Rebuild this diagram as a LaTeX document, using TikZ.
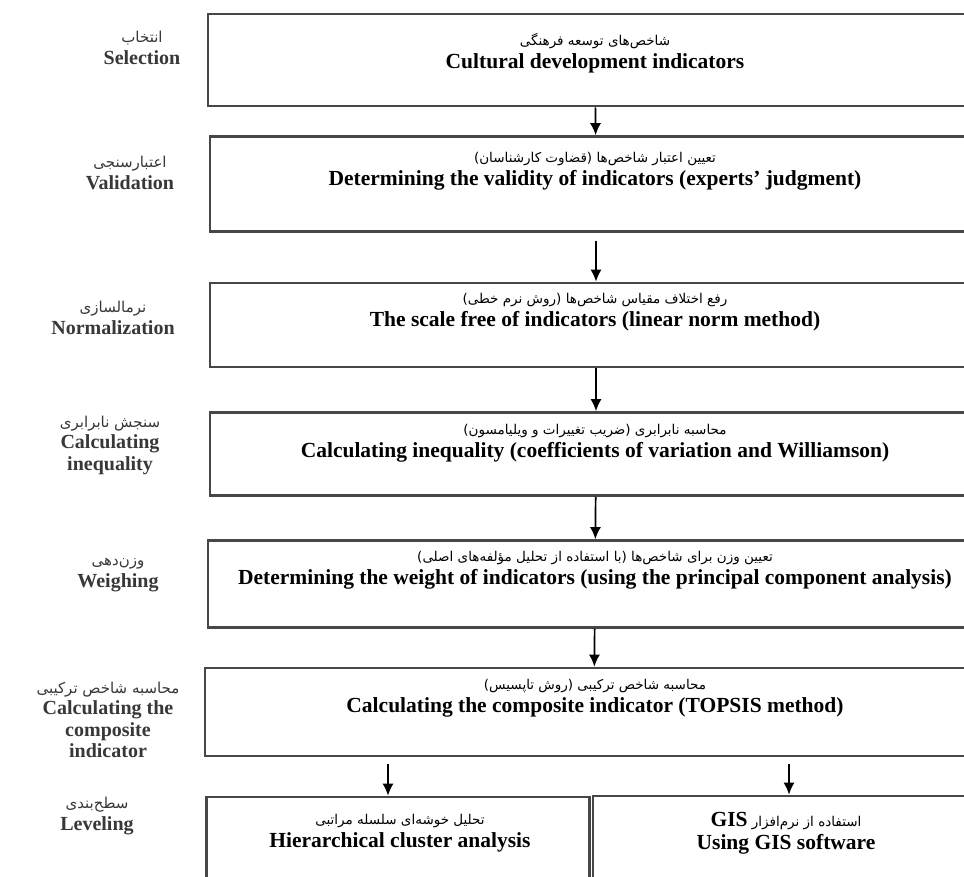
\documentclass[tikz,border=0pt]{standalone}
\usepackage{fontspec}
\setmainfont{Liberation Serif}
\newfontfamily\fa[Script=Arabic]{DejaVu Sans}
\TeXXeTstate=1
\usetikzlibrary{arrows.meta}

\newcommand{\fatext}[1]{{\fa\mdseries\fontsize{13.5}{16}\selectfont\beginR #1\endR}}
\newcommand{\falabel}[1]{{\fa\mdseries\fontsize{15}{17}\selectfont\beginR #1\endR}}

\begin{document}
\begin{tikzpicture}[x=1pt,y=-1pt,
    kasten/.style={
      rectangle,
      draw=black!72,
      line width=2.6pt,
      inner sep=0pt},
    inhalt/.style={
      align=center,
      font=\fontsize{21.5}{23}\selectfont\bfseries},
    etikett/.style={
      align=center,
      text=black!78,
      font=\fontsize{20}{21.5}\selectfont\bfseries},
    pfeil/.style={
      -{Latex[length=12pt,width=11pt]},
      line width=1.7pt}
    ]

  \fill[white] (0,0) rectangle (964,877);
  \useasboundingbox (0,0) rectangle (964,877);

  \node at (595,60) (schritt0) [kasten, minimum width=774pt, minimum height=92pt] {};
  \node at (595,53) (inhalt0) [inhalt] {\fatext{شاخص^^^^200cهای توسعه فرهنگی}\\Cultural development indicators};

  \node at (596,184) (schritt1) [kasten, minimum width=772pt, minimum height=95pt] {};
  \node at (595,171) (inhalt1) [inhalt] {\fatext{تعیین اعتبار شاخص^^^^200cها (قضاوت کارشناسان)}\\Determining the validity of indicators (experts’ judgment)};

  \node at (596,325) (schritt2) [kasten, minimum width=772pt, minimum height=84pt] {};
  \node at (595,312) (inhalt2) [inhalt] {\fatext{رفع اختلاف مقیاس شاخص^^^^200cها (روش نرم خطی)}\\The scale free of indicators (linear norm method)};

  \node at (596,454) (schritt3) [kasten, minimum width=772pt, minimum height=83pt] {};
  \node at (595,443) (inhalt3) [inhalt] {\fatext{محاسبه نابرابری (ضریب تغییرات و ویلیامسون)}\\Calculating inequality (coefficients of variation and Williamson)};

  \node at (595,584) (schritt4) [kasten, minimum width=774pt, minimum height=87pt] {};
  \node at (595,570) (inhalt4) [inhalt] {\fatext{تعیین وزن برای شاخص^^^^200cها (با استفاده از تحلیل مؤلفه^^^^200cهای اصلی)}\\Determining the weight of indicators (using the principal component analysis)};

  \node at (594,712) (schritt5) [kasten, minimum width=778pt, minimum height=88pt] {};
  \node at (595,698) (inhalt5) [inhalt] {\fatext{محاسبه شاخص ترکیبی (روش تاپسیس)}\\Calculating the composite indicator (TOPSIS method)};

  \node at (398,858) (links) [kasten, minimum width=383pt, minimum height=122pt] {};
  \node at (400,833) (inhaltL) [inhalt] {\fatext{تحلیل خوشه^^^^200cای سلسله مراتبی}\\Hierarchical cluster analysis};

  \node at (789,857) (rechts) [kasten, minimum width=392pt, minimum height=122pt] {};
  \node at (786,833) (inhaltR) [inhalt] {\fatext{استفاده از نرم^^^^200cافزار \beginL{\rmfamily\bfseries\fontsize{21.5}{23}\selectfont GIS}\endL}\\Using GIS software};

  \node at (142,48) (etikett0) [etikett] {\falabel{انتخاب}\\Selection};
  \node at (130,173) (etikett1) [etikett] {\falabel{اعتبارسنجی}\\Validation};
  \node at (113,318) (etikett2) [etikett] {\falabel{نرمالسازی}\\Normalization};
  \node at (110,445) (etikett3) [etikett] {\falabel{سنجش نابرابری}\\Calculating\\inequality};
  \node at (118,575) (etikett4) [etikett] {\falabel{وزن^^^^200cدهی}\\Weighing};
  \node at (108,720) (etikett5) [etikett] {\falabel{محاسبه شاخص ترکیبی}\\Calculating the\\composite\\indicator};
  \node at (97,816) (etikett6) [etikett] {\falabel{سطح^^^^200cبندی}\\Leveling};

  \path [pfeil] (schritt0) edge [] (schritt1);
  \path [pfeil] (schritt1) edge [shorten <=8pt] (schritt2);
  \path [pfeil] (schritt2) edge [] (schritt3);
  \path [pfeil] (schritt3) edge [] (schritt4);
  \path [pfeil] (schritt4) edge [] (schritt5);
  \path [pfeil] ([xshift=-10pt]links.north |- schritt5.south) edge [shorten <=7pt] ([xshift=-10pt]links.north);
  \path [pfeil] (rechts.north |- schritt5.south) edge [shorten <=7pt] (rechts.north);

\end{tikzpicture}
\end{document}
